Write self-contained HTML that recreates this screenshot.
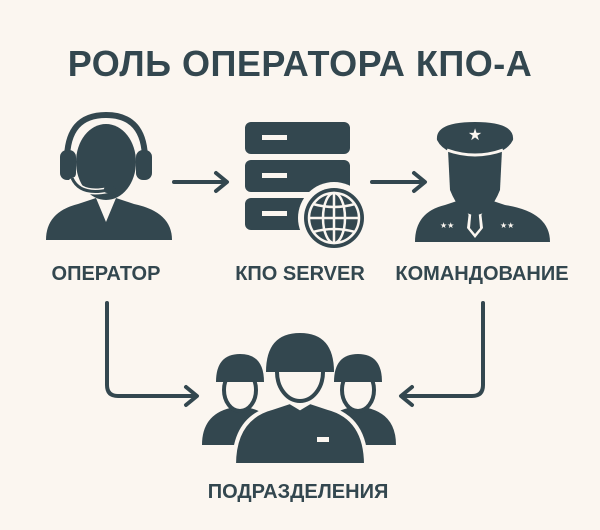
<!DOCTYPE html>
<html><head><meta charset="utf-8"><style>
html,body{margin:0;padding:0;background:#fbf6f0}
svg{display:block}
text{font-family:"Liberation Sans","DejaVu Sans",sans-serif;font-weight:bold;fill:#33474f}
</style></head><body>
<svg width="600" height="530" viewBox="0 0 600 530" xmlns="http://www.w3.org/2000/svg">
<rect width="600" height="530" fill="#fbf6f0"/>
<text x="300" y="76" font-size="36" text-anchor="middle" letter-spacing="0.5">РОЛЬ ОПЕРАТОРА КПО-А</text>
<g fill="#33474f" stroke="none">
<!-- operator -->
<path d="M46 240 Q46 212 78 204 L96 198 L106 222 L116 198 L134 204 Q172 212 172 240 Z"/>
<ellipse cx="106" cy="162" rx="30" ry="38"/>
<path d="M67 160 Q67 115 106 115 Q145 115 145 160" fill="none" stroke="#33474f" stroke-width="6"/>
<path d="M72 160 Q72 122 106 122 Q140 122 140 160" fill="none" stroke="#fbf6f0" stroke-width="3"/>
<rect x="60" y="150" width="16" height="30" rx="7"/>
<rect x="136" y="150" width="16" height="30" rx="7"/>
<path d="M72 178 Q80 196 108 190" fill="none" stroke="#fbf6f0" stroke-width="6"/>
<path d="M72 178 Q80 196 108 190" fill="none" stroke="#33474f" stroke-width="3"/>
<rect x="104" y="186" width="12" height="7" rx="3"/>
<!-- server -->
<rect x="245" y="122" width="105" height="32" rx="6"/>
<rect x="245" y="160" width="105" height="32" rx="6"/>
<rect x="245" y="198" width="105" height="32" rx="6"/>
<rect x="262" y="135" width="25" height="5" fill="#fbf6f0"/>
<rect x="262" y="173" width="25" height="5" fill="#fbf6f0"/>
<rect x="262" y="211" width="25" height="5" fill="#fbf6f0"/>
<circle cx="334" cy="218" r="36" fill="#fbf6f0"/>
<circle cx="334" cy="218" r="30"/>
<g fill="none" stroke="#fbf6f0" stroke-width="2.5">
<circle cx="334" cy="218" r="25"/>
<ellipse cx="334" cy="218" rx="11" ry="25"/>
<line x1="334" y1="193" x2="334" y2="243"/>
<line x1="309" y1="218" x2="359" y2="218"/>
<path d="M313 204 Q334 210 355 204 M313 232 Q334 226 355 232"/>
</g>
<!-- commander -->
<path d="M415 242 Q415 212 445 205 L460 200 L475 226 L490 200 L505 205 Q550 212 550 242 Z"/>
<path d="M470 203 L480 203 L483 228 L475 238 L467 228 Z" fill="#fbf6f0"/>
<path d="M472 206 L478 206 L480 228 L475 234 L470 228 Z"/>
<path d="M448 150 L502 150 L500 190 Q490 215 475 215 Q460 215 450 190 Z"/>
<path d="M437 140 Q435 122 475 122 Q515 122 513 140 Q505 156 475 156 Q445 156 437 140 Z"/>
<path d="M447 150 Q475 160 503 150" fill="none" stroke="#fbf6f0" stroke-width="3"/>
<text x="475" y="140" font-size="16" text-anchor="middle" style="fill:#fbf6f0">★</text>
<text x="440" y="228" font-size="8" style="fill:#fbf6f0">★★</text>
<text x="500" y="228" font-size="8" style="fill:#fbf6f0">★★</text>
<!-- soldiers -->
<path d="M202 445 Q202 415 230 408 L240 405 L250 408 Q278 415 278 445 Z"/>
<path d="M320 445 Q320 415 348 408 L358 405 L368 408 Q396 415 396 445 Z"/>
<ellipse cx="240" cy="390" rx="16" ry="21" fill="#fbf6f0" stroke="#33474f" stroke-width="4"/>
<path d="M216 382 Q216 354 240 354 Q264 354 264 382 Z"/>
<ellipse cx="358" cy="390" rx="16" ry="21" fill="#fbf6f0" stroke="#33474f" stroke-width="4"/>
<path d="M334 382 Q334 354 358 354 Q382 354 382 382 Z"/>
<path d="M234 465 Q234 418 272 408 L290 402 L300 408 L310 402 L328 408 Q366 418 366 465 Z" stroke="#fbf6f0" stroke-width="4"/>
<ellipse cx="300" cy="372" rx="23" ry="29" fill="#fbf6f0" stroke="#33474f" stroke-width="4"/>
<path d="M266 372 Q266 333 300 333 Q334 333 334 372 Z"/>
<rect x="317" y="437" width="12" height="5" fill="#fbf6f0"/>
</g>
<g fill="none" stroke="#33474f" stroke-width="4" stroke-linecap="round" stroke-linejoin="round">
<path d="M174 182 H226 M216 173 L227 182 L216 191"/>
<path d="M372 182 H424 M414 173 L425 182 L414 191"/>
<path d="M107 303 V385 Q107 396 118 396 H196 M186 387 L197 396 L186 405"/>
<path d="M483 303 V385 Q483 396 472 396 H402 M412 387 L401 396 L412 405"/>
</g>
<text x="106" y="280" font-size="20" text-anchor="middle">ОПЕРАТОР</text>
<text x="300" y="280" font-size="20" text-anchor="middle">КПО SERVER</text>
<text x="482" y="280" font-size="20" text-anchor="middle">КОМАНДОВАНИЕ</text>
<text x="298" y="498" font-size="20" text-anchor="middle">ПОДРАЗДЕЛЕНИЯ</text>
</svg>
</body></html>
